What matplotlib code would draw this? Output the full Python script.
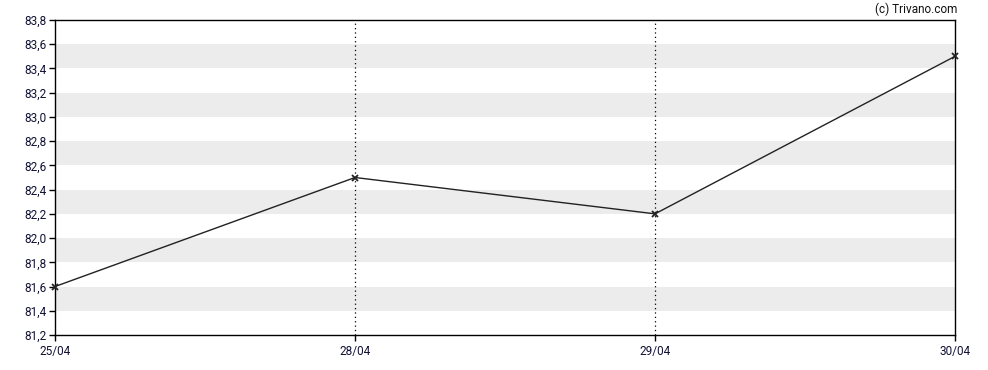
import matplotlib
matplotlib.use("Agg")
import matplotlib.pyplot as plt

plt.rcParams['font.family'] = ['Roboto', 'DejaVu Sans']

dates = ["25/04", "28/04", "29/04", "30/04"]
values = [81.6, 82.5, 82.2, 83.5]
yticks = [81.2, 81.4, 81.6, 81.8, 82.0, 82.2, 82.4, 82.6, 82.8, 83.0, 83.2, 83.4, 83.6, 83.8]

fig = plt.figure(figsize=(9.88, 3.70), dpi=100)
ax = fig.add_axes([55/988, 1 - 335/370, 900/988, 315/370])

x = list(range(len(dates)))
ymin, ymax = 81.2, 83.8
ax.set_xlim(0, len(dates) - 1)
ax.set_ylim(ymin, ymax)

# alternating stripes
for i in range(len(yticks) - 1):
    lo, hi = yticks[i], yticks[i + 1]
    if i % 2 == 1:
        ax.axhspan(lo, hi, color='#ececec', lw=0, zorder=0)

for xi in x[1:-1]:
    ax.axvline(xi, color='black', lw=0.9, ls=(0, (1, 2.5)), zorder=1)

ax.plot(x, values, color='#222222', lw=1.0, marker='x', ms=4, mew=1.3, zorder=3, clip_on=False)

ax.set_xticks(x)
ax.set_xticklabels(dates)
ax.set_yticks(yticks)
ax.set_yticklabels([f"{v:.1f}".replace('.', ',') for v in yticks])
ax.tick_params(axis='both', labelsize=8.5, colors='black', length=4, width=1, direction='out')
ax.tick_params(axis='x', pad=3)
ax.tick_params(axis='y', pad=2)
for lab in ax.get_xticklabels() + ax.get_yticklabels():
    lab.set_color('#111133')
for s in ax.spines.values():
    s.set_linewidth(1.0)
    s.set_color('black')

fig.text(957/988, 1 - 9/370, "(c) Trivano.com", ha='right', va='center', fontsize=8.5, color='#111111')

fig.savefig("out.png", dpi=100)
